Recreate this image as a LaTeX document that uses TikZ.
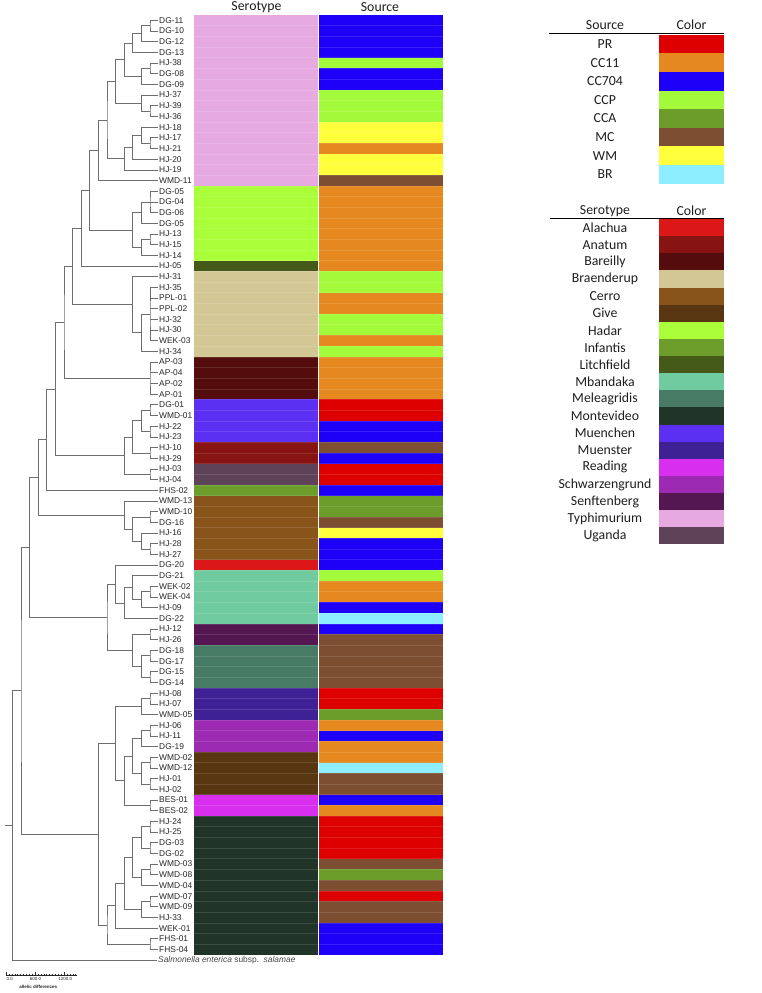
\documentclass[tikz,border=0pt]{standalone}
\usepackage{fontspec}
\setmainfont{Liberation Sans}
\newfontfamily\calibri{Carlito}
\usetikzlibrary{calc}
\definecolor{branchgrey}{HTML}{6E6E6E}
\definecolor{labelgrey}{HTML}{262626}
\definecolor{legendink}{HTML}{1E1E1E}
% source colours
\definecolor{srcPR}{HTML}{DE0000}
\definecolor{srcCCxi}{HTML}{E4881F}
\definecolor{srcCCdcciv}{HTML}{1E00F8}
\definecolor{srcCCP}{HTML}{A3FA3A}
\definecolor{srcCCA}{HTML}{6C9D2B}
\definecolor{srcMC}{HTML}{7D4E32}
\definecolor{srcWM}{HTML}{FFFF3C}
\definecolor{srcBR}{HTML}{8CEEFF}
% serotype colours
\definecolor{seroAlachua}{HTML}{DB1717}
\definecolor{seroAnatum}{HTML}{871313}
\definecolor{seroBareilly}{HTML}{540C0C}
\definecolor{seroBraenderup}{HTML}{D3C895}
\definecolor{seroCerro}{HTML}{89541A}
\definecolor{seroGive}{HTML}{583612}
\definecolor{seroHadar}{HTML}{ABFF3A}
\definecolor{seroInfantis}{HTML}{6D9D2A}
\definecolor{seroLitchfield}{HTML}{455A18}
\definecolor{seroMbandaka}{HTML}{70CBA0}
\definecolor{seroMeleagridis}{HTML}{477B66}
\definecolor{seroMontevideo}{HTML}{213428}
\definecolor{seroMuenchen}{HTML}{5B30F2}
\definecolor{seroMuenster}{HTML}{3F2196}
\definecolor{seroReading}{HTML}{D82FEE}
\definecolor{seroSchwarzengrund}{HTML}{9D2AB2}
\definecolor{seroSenftenberg}{HTML}{541752}
\definecolor{seroTyphimurium}{HTML}{E6A9E0}
\definecolor{seroUganda}{HTML}{5E4258}
\newcommand{\clade}[4]{%
  \path let \p1=(#3), \p2=(#4) in
    coordinate (#1) at ({158.6pt-8.6pt*#2}, {0.5*\y1+0.5*\y2});
  \draw[branch] (#3) -| (#1) |- (#4);}

\begin{document}
\begin{tikzpicture}[x=1pt, y=-1pt,
    branch/.style={branchgrey, line width=0.7pt},
    leaf/.style={anchor=west, inner sep=1pt, text=labelgrey,
                 font=\fontsize{8.4}{9}\selectfont},
    legtext/.style={text=legendink, inner sep=0pt,
                    font=\calibri\fontsize{13.8}{15}\selectfont},
    tiny/.style={text=labelgrey, inner sep=0pt,
                 font=\fontsize{4.5}{5}\selectfont}]
  \useasboundingbox (0,0) rectangle (761,993);

  % heat map
  \node[legtext] (serohead) at (256.5,7) {Serotype};
  \node[legtext] (srchead) at (380,7) {Source};
  \foreach \a/\b/\c in {1/16/seroTyphimurium, 17/23/seroHadar,
      24/24/seroLitchfield, 25/32/seroBraenderup, 33/36/seroBareilly,
      37/40/seroMuenchen, 41/42/seroAnatum, 43/44/seroUganda,
      45/45/seroInfantis, 46/51/seroCerro, 52/52/seroAlachua,
      53/57/seroMbandaka, 58/59/seroSenftenberg, 60/63/seroMeleagridis,
      64/66/seroMuenster, 67/69/seroSchwarzengrund, 70/73/seroGive,
      74/75/seroReading, 76/88/seroMontevideo}{%
    \fill[\c] (193.5,{15+10.68*(\a-1)}) rectangle (318,{15+10.68*\b});}
  \foreach \a/\b/\c in {1/4/srcCCdcciv, 5/5/srcCCP, 6/7/srcCCdcciv,
      8/10/srcCCP, 11/12/srcWM, 13/13/srcCCxi, 14/15/srcWM, 16/16/srcMC,
      17/24/srcCCxi, 25/26/srcCCP, 27/28/srcCCxi, 29/30/srcCCP,
      31/31/srcCCxi, 32/32/srcCCP, 33/36/srcCCxi, 37/38/srcPR,
      39/40/srcCCdcciv, 41/41/srcMC, 42/42/srcCCdcciv, 43/44/srcPR,
      45/45/srcCCdcciv, 46/47/srcCCA, 48/48/srcMC, 49/49/srcWM,
      50/52/srcCCdcciv, 53/53/srcCCP, 54/55/srcCCxi, 56/56/srcCCdcciv,
      57/57/srcBR, 58/58/srcCCdcciv, 59/63/srcMC, 64/65/srcPR,
      66/66/srcCCA, 67/67/srcCCxi, 68/68/srcCCdcciv, 69/70/srcCCxi,
      71/71/srcBR, 72/73/srcMC, 74/74/srcCCdcciv, 75/75/srcCCxi,
      76/79/srcPR, 80/80/srcMC, 81/81/srcCCA, 82/82/srcMC, 83/83/srcPR,
      84/85/srcMC, 86/88/srcCCdcciv}{%
    \fill[\c] (318,{15+10.68*(\a-1)}) rectangle (442.5,{15+10.68*\b});}
  \foreach \i in {1,...,87}{%
    \draw[white, opacity=0.12, line width=0.5pt]
      (193.5,{15+10.68*\i}) -- (442.5,{15+10.68*\i});}
  \draw[white, line width=0.8pt] (318,15) -- (318,955);

  % leaves
  \foreach \lab [count=\i] in {DG-11, DG-10, DG-12, DG-13, HJ-38, DG-08,
      DG-09, HJ-37, HJ-39, HJ-36, HJ-18, HJ-17, HJ-21, HJ-20, HJ-19, WMD-11,
      DG-05, DG-04, DG-06, DG-05, HJ-13, HJ-15, HJ-14, HJ-05, HJ-31, HJ-35,
      PPL-01, PPL-02, HJ-32, HJ-30, WEK-03, HJ-34, AP-03, AP-04, AP-02,
      AP-01, DG-01, WMD-01, HJ-22, HJ-23, HJ-10, HJ-29, HJ-03, HJ-04, FHS-02,
      WMD-13, WMD-10, DG-16, HJ-16, HJ-28, HJ-27, DG-20, DG-21, WEK-02,
      WEK-04, HJ-09, DG-22, HJ-12, HJ-26, DG-18, DG-17, DG-15, DG-14, HJ-08,
      HJ-07, WMD-05, HJ-06, HJ-11, DG-19, WMD-02, WMD-12, HJ-01, HJ-02,
      BES-01, BES-02, HJ-24, HJ-25, DG-03, DG-02, WMD-03, WMD-08, WMD-04,
      WMD-07, WMD-09, HJ-33, WEK-01, FHS-01, FHS-04}{%
    \node[leaf] (l\i) at (158,{9.66+10.68*\i}) {\lab};}
  \node[leaf, text=labelgrey!85] (l89) at (157,{9.66+10.68*89})
    {\itshape Salmonella enterica\upshape\ subsp.\ \ \itshape salamae};

  % Typhimurium
  \clade{a1}{1}{l1.west}{l2.west}
  \clade{a2}{2}{a1}{l3.west}
  \clade{a3}{3}{a2}{l4.west}
  \clade{a4}{1}{l5.west}{l6.west}
  \clade{a5}{2}{a4}{l7.west}
  \clade{a6}{4}{a3}{a5}
  \clade{a7}{1}{l9.west}{l10.west}
  \clade{a8}{2}{l8.west}{a7}
  \clade{a9}{5}{a6}{a8}
  \clade{a10}{1}{l12.west}{l13.west}
  \clade{a11}{2}{l11.west}{a10}
  \clade{a12}{3}{a11}{l14.west}
  \clade{a13}{4}{a12}{l15.west}
  \clade{a14}{6}{a9}{a13}
  \clade{a15}{7}{a14}{l16.west}
  % Hadar, Litchfield
  \clade{b1}{1}{l17.west}{l19.west}
  \draw[branch] (l18.west) -- (l18.west -| b1);
  \clade{b2}{2}{b1}{l20.west}
  \clade{b3}{1}{l21.west}{l22.west}
  \clade{b4}{2}{b3}{l23.west}
  \clade{b5}{3}{b2}{b4}
  \clade{n8}{8}{a15}{b5}
  \clade{n9}{9}{n8}{l24.west}
  % Braenderup
  \clade{c1}{1}{l26.west}{l31.west}
  \foreach \i in {27,...,30}{\draw[branch] (l\i.west) -- (l\i.west -| c1);}
  \clade{c2}{2}{c1}{l32.west}
  \clade{c3}{3}{l25.west}{c2}
  \clade{n10}{10}{n9}{c3}
  % Bareilly
  \clade{d1}{1}{l33.west}{l36.west}
  \foreach \i in {34,35}{\draw[branch] (l\i.west) -- (l\i.west -| d1);}
  \clade{n11}{11}{n10}{d1}
  % Muenchen, Anatum, Uganda, Infantis
  \clade{e1}{1}{l37.west}{l38.west}
  \clade{e2}{1}{l39.west}{l40.west}
  \clade{e3}{2}{e1}{e2}
  \clade{e4}{1}{l41.west}{l42.west}
  \clade{e5}{3}{e3}{e4}
  \clade{e6}{1}{l43.west}{l44.west}
  \clade{e7}{4}{e5}{e6}
  \clade{n12}{12}{n11}{e7}
  \clade{n13}{13}{n12}{l45.west}
  % Cerro
  \clade{f1}{1}{l47.west}{l48.west}
  \clade{f2}{1}{l50.west}{l51.west}
  \clade{f3}{2}{l49.west}{f2}
  \clade{f4}{3}{f1}{f3}
  \clade{f5}{4}{l46.west}{f4}
  \clade{n14}{14}{n13}{f5}
  % Alachua, Mbandaka, Senftenberg, Meleagridis
  \clade{g1}{1}{l54.west}{l55.west}
  \clade{g2}{2}{g1}{l56.west}
  \clade{g3}{3}{l53.west}{g2}
  \clade{g4}{4}{g3}{l57.west}
  \clade{g5}{5}{l52.west}{g4}
  \clade{g6}{1}{l58.west}{l59.west}
  \clade{g7}{1}{l60.west}{l61.west}
  \clade{g8}{1}{l62.west}{l63.west}
  \clade{g9}{2}{g7}{g8}
  \clade{g10}{3}{g6}{g9}
  \clade{g11}{6}{g5}{g10}
  \clade{n15}{15}{n14}{g11}
  % Muenster, Schwarzengrund, Give, Reading
  \clade{h1}{1}{l64.west}{l65.west}
  \clade{h2}{2}{h1}{l66.west}
  \clade{h3}{1}{l67.west}{l68.west}
  \clade{h4}{2}{h3}{l69.west}
  \clade{h5}{1}{l70.west}{l71.west}
  \clade{h6}{1}{l72.west}{l73.west}
  \clade{h7}{2}{h5}{h6}
  \clade{h8}{3}{h4}{h7}
  \clade{h9}{1}{l74.west}{l75.west}
  \clade{h10}{4}{h8}{h9}
  \clade{h11}{5}{h2}{h10}
  % Montevideo
  \clade{k1}{1}{l76.west}{l77.west}
  \clade{k2}{1}{l78.west}{l79.west}
  \clade{k3}{2}{k1}{k2}
  \clade{k4}{1}{l80.west}{l81.west}
  \clade{k5}{2}{k4}{l82.west}
  \clade{k6}{3}{k3}{k5}
  \clade{k7}{1}{l83.west}{l84.west}
  \clade{k8}{2}{k7}{l85.west}
  \clade{k9}{4}{k6}{k8}
  \clade{k10}{5}{k9}{l86.west}
  \clade{k11}{1}{l87.west}{l88.west}
  \clade{k12}{6}{k10}{k11}
  \clade{h12}{7}{h11}{k12}
  \clade{n16}{16}{n15}{h12}
  \clade{root}{17}{n16}{l89.west}
  \coordinate (stub) at (5,0);
  \draw[branch] (root) -- (root -| stub);

  % scale bar
  \coordinate (bar0) at (6,975);
  \coordinate (bar1) at (77,975);
  \draw[labelgrey, line width=0.5pt] (bar0) -- (bar1);
  \foreach \t in {0,...,24}{%
    \draw[labelgrey, line width=0.3pt] ($(bar0)+(2.9*\t,0)$) -- ++(0,-1.4);}
  \foreach \t in {0,1,2}{%
    \draw[labelgrey, line width=0.4pt] ($(bar0)+(29*\t,0)$) -- ++(0,-2.6);}
  \node[tiny] (sc0) at (9.7,978.6) {0.0};
  \node[tiny] (sc1) at (35.5,978.6) {600.0};
  \node[tiny] (sc2) at (65.3,978.6) {1200.0};
  \node[tiny, font=\fontsize{4.5}{5}\selectfont\bfseries] (scname)
    at (38.3,986.7) {allelic differences};

  % source legend
  \node[legtext] (srckey) at (605,25) {Source};
  \node[legtext] (srckeycol) at (691.5,25) {Color};
  \draw[black, line width=1pt] (549,33.7) -- (723.7,33.7);
  \foreach \lab/\col [count=\i] in {PR/srcPR, CC11/srcCCxi,
      CC704/srcCCdcciv, CCP/srcCCP, CCA/srcCCA, MC/srcMC, WM/srcWM,
      BR/srcBR}{%
    \node[legtext] (src\i) at (605,{34.7+18.6*(\i-0.5)}) {\lab};
    \fill[\col] (659.3,{34.7+18.6*(\i-1)}) rectangle (723.7,{34.7+18.6*\i});}

  % serotype legend
  \node[legtext] (serokey) at (605,210.7) {Serotype};
  \node[legtext] (serokeycol) at (691.5,210.7) {Color};
  \draw[black, line width=1pt] (550,218) -- (723.7,218);
  \foreach \lab [count=\i] in {Alachua, Anatum, Bareilly, Braenderup,
      Cerro, Give, Hadar, Infantis, Litchfield, Mbandaka, Meleagridis,
      Montevideo, Muenchen, Muenster, Reading, Schwarzengrund, Senftenberg,
      Typhimurium, Uganda}{%
    \node[legtext] (sero\i) at (605,{219+17.13*(\i-0.5)}) {\lab};
    \fill[sero\lab] (659.3,{219+17.13*(\i-1)})
      rectangle (723.7,{219+17.13*\i});}
\end{tikzpicture}
\end{document}
